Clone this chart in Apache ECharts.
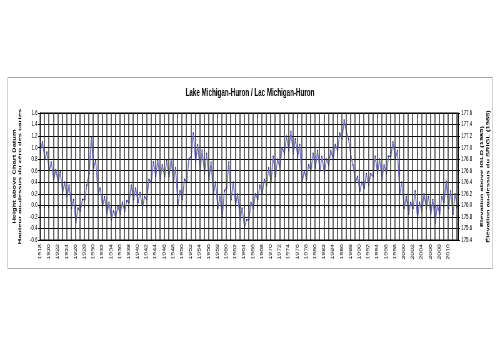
<!DOCTYPE html>
<html>
<head>
<meta charset="utf-8">
<script src="https://cdn.jsdelivr.net/npm/echarts@6/dist/echarts.min.js"></script>
<style>
	html, body { margin: 0; padding: 0; background: #fff; overflow: hidden; width: 500px; height: 343px; }
	/* the reference is squeezed sideways, so draw wide and squeeze */
	#chart { width: 800px; height: 343px; transform: scaleX(0.625); transform-origin: 0 0; }
</style>
</head>
<body>
<div id="chart"></div>
<script>
const startYear = 1918
const endYear = 2012.25

// winter (Feb) level above chart datum, m, 1918..2012
const winterLevels = [
	0.95, 0.80, 0.60, 0.45, 0.40, 0.22, 0.15, -0.05, -0.30, -0.10,
	0.10, 0.55, 0.65, 0.20, -0.02, -0.15, -0.25, -0.20, -0.15, -0.10,
	0.05, 0.10, 0.05, -0.05, 0.10, 0.40, 0.50, 0.45, 0.50, 0.50,
	0.40, 0.00, 0.10, 0.40, 0.85, 0.75, 0.60, 0.55, 0.45, 0.20,
	-0.05, -0.20, 0.30, 0.10, 0.00, -0.25, -0.38, -0.25, -0.05, 0.10,
	0.20, 0.35, 0.40, 0.50, 0.65, 0.90, 0.95, 0.90, 0.85, 0.40,
	0.45, 0.60, 0.65, 0.60, 0.55, 0.70, 0.80, 0.95, 1.15, 1.25,
	0.85, 0.40, 0.25, 0.30, 0.35, 0.50, 0.55, 0.45, 0.55, 0.85,
	0.80, 0.20, -0.05, -0.15, -0.05, -0.22, -0.10, -0.05, -0.15, -0.30,
	-0.15, 0.05, -0.05, -0.15, -0.02
]

// summer (Jul) level above chart datum, m, 1918..2011
const summerLevels = [
	1.10, 0.92, 0.75, 0.62, 0.58, 0.40, 0.35, 0.10, -0.05, 0.10,
	0.35, 1.18, 0.78, 0.30, 0.15, 0.05, -0.10, -0.02, 0.05, 0.08,
	0.35, 0.30, 0.22, 0.15, 0.45, 0.75, 0.78, 0.70, 0.78, 0.80,
	0.65, 0.25, 0.45, 0.80, 1.25, 1.05, 0.95, 0.90, 0.75, 0.40,
	0.15, 0.25, 0.75, 0.40, 0.20, -0.05, -0.25, 0.05, 0.20, 0.35,
	0.45, 0.65, 0.85, 0.80, 1.00, 1.20, 1.28, 1.15, 1.05, 0.60,
	0.70, 0.90, 0.95, 0.85, 0.80, 0.95, 1.05, 1.25, 1.48, 1.15,
	0.70, 0.50, 0.40, 0.55, 0.55, 0.85, 0.80, 0.70, 0.85, 1.10,
	0.95, 0.40, 0.15, 0.05, 0.25, 0.05, 0.20, 0.15, 0.10, 0.00,
	0.15, 0.42, 0.25, 0.20
]

const chartDatum = 176.0
const lastLabelYear = 2010

const points = []
winterLevels.map((w, i) => {
	points.push([startYear + i + 0.1, w])
	if (i < summerLevels.length) points.push([startYear + i + 0.55, summerLevels[i]])
})

// one vertical grid line per year
const gridYears = []
for (let y = startYear + 1; y <= Math.floor(endYear); y++) gridYears.push({ xAxis: y })

const font = 'Liberation Sans, Arial, sans-serif'
const chart = echarts.init(document.getElementById('chart'), null, { renderer: 'canvas' })

chart.setOption({
	backgroundColor: '#fff',
	animation: false,
	textStyle: { fontFamily: font },
	title: {
		text: 'Lake Michigan-Huron / Lac Michigan-Huron',
		left: 'center',
		top: 83,
		textStyle: { fontSize: 10, fontWeight: 'bold', color: '#000', fontFamily: font }
	},
	graphic: [{
		type: 'rect',
		shape: { x: 12.5, y: 77.5, width: 776, height: 191 },
		style: { fill: 'none', stroke: '#aaa', lineWidth: 1 },
		silent: true
	}],
	grid: {
		left: 64, right: 67, top: 113, bottom: 103,
		show: true, borderColor: '#000', borderWidth: 1
	},
	xAxis: {
		type: 'value',
		min: startYear,
		max: endYear,
		interval: 1,
		axisLine: { show: true, lineStyle: { color: '#000' } },
		axisTick: { show: true, length: 3, lineStyle: { color: '#000', width: 1.5 } },
		splitLine: { show: false },
		axisLabel: {
			rotate: 90,
			fontSize: 7,
			color: '#000',
			margin: 4,
			showMaxLabel: false,
			formatter: (v) => (Number.isInteger(v) && v % 2 === 0 && v <= lastLabelYear ? String(v) : '')
		}
	},
	yAxis: [{
		type: 'value',
		position: 'left',
		min: -0.6,
		max: 1.6,
		interval: 0.2,
		name: 'Height above Chart Datum\nHauteur au-dessus du zéro des cartes',
		nameLocation: 'middle',
		nameRotate: 90,
		nameGap: 22,
		nameTextStyle: { fontSize: 7.5, fontWeight: 'bold', color: '#000', lineHeight: 9.6 },
		axisLine: { show: true, lineStyle: { color: '#000' } },
		axisTick: { show: true, length: 3, lineStyle: { color: '#000' } },
		splitLine: { show: true, lineStyle: { color: '#000', width: 1 } },
		axisLabel: { fontSize: 7, color: '#000', margin: 4, formatter: (v) => v.toFixed(1) }
	}, {
		type: 'value',
		position: 'right',
		min: chartDatum - 0.6,
		max: chartDatum + 1.6,
		interval: 0.2,
		name: 'Elevation above IGLD (1985)\nÉlévation au-dessus du SRIGL (1985)',
		nameLocation: 'middle',
		nameRotate: 90,
		nameGap: 24,
		nameTextStyle: { fontSize: 7.5, fontWeight: 'bold', color: '#000', lineHeight: 9.6 },
		axisLine: { show: true, lineStyle: { color: '#000' } },
		axisTick: { show: true, length: 3, lineStyle: { color: '#000' } },
		splitLine: { show: false },
		axisLabel: { fontSize: 7, color: '#000', margin: 5, formatter: (v) => v.toFixed(1) }
	}],
	series: [{
		type: 'line',
		yAxisIndex: 0,
		data: [],
		z: 1,
		markLine: {
			silent: true,
			symbol: ['none', 'none'],
			label: { show: false },
			animation: false,
			lineStyle: { color: '#333', width: 1.5, type: 'solid' },
			data: gridYears
		}
	}, {
		type: 'line',
		yAxisIndex: 0,
		data: points,
		z: 3,
		showSymbol: true,
		symbol: 'circle',
		symbolSize: 1.8,
		itemStyle: { color: '#22225e' },
		lineStyle: { color: '#6f6fbf', width: 1.5 }
	}]
})
</script>
</body>
</html>
